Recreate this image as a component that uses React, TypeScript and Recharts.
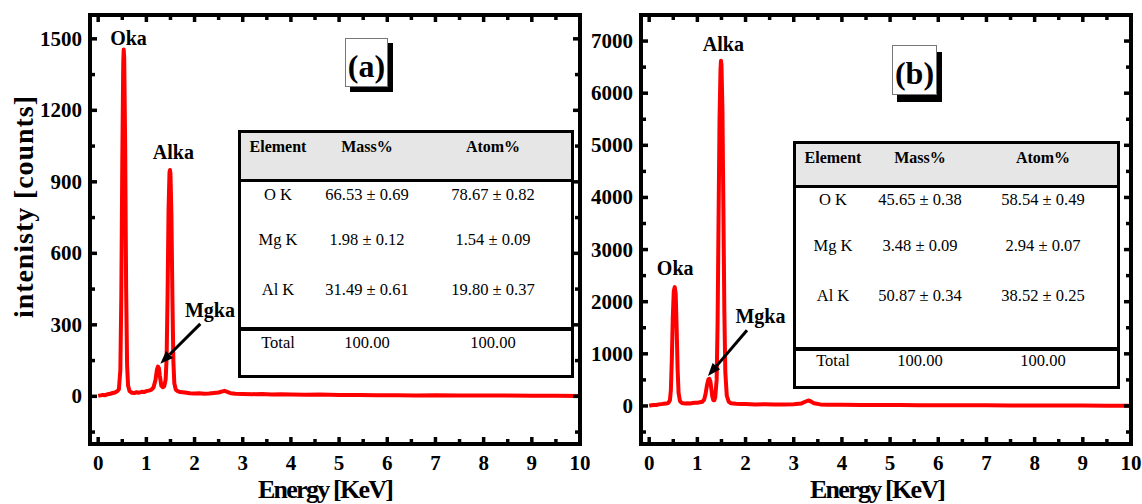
import React from "react";
import { LineChart, Line, XAxis, YAxis, ReferenceDot, ReferenceLine } from "recharts";

// spectrum (a)
const energyA = [0, 0.05, 0.1, 0.15, 0.2, 0.25, 0.3, 0.35, 0.4, 0.43, 0.46, 0.48, 0.5, 0.52, 0.53, 0.54, 0.56, 0.58, 0.6, 0.62, 0.65, 0.7, 0.75, 0.8, 0.85, 0.9, 0.95, 1.0, 1.05, 1.1, 1.15, 1.19, 1.22, 1.24, 1.26, 1.28, 1.31, 1.34, 1.37, 1.4, 1.42, 1.44, 1.46, 1.48, 1.49, 1.5, 1.52, 1.54, 1.56, 1.58, 1.61, 1.65, 1.7, 1.8, 1.9, 2.0, 2.1, 2.2, 2.3, 2.4, 2.5, 2.56, 2.62, 2.68, 2.75, 2.85, 3.0, 3.2, 3.4, 3.6, 3.8, 4.0, 4.3, 4.6, 5.0, 5.4, 5.8, 6.2, 6.6, 7.0, 7.5, 8.0, 8.5, 9.0, 9.5, 10];
const countsA = [2, 4, 6, 5, 9, 11, 14, 16, 22, 30, 110, 420, 980, 1400, 1455, 1420, 1050, 450, 130, 45, 22, 15, 14, 17, 15, 19, 18, 22, 24, 27, 38, 70, 112, 125, 118, 85, 45, 38, 42, 70, 160, 420, 780, 940, 950, 935, 760, 420, 150, 55, 28, 22, 18, 16, 13, 12, 13, 11, 12, 14, 16, 20, 23, 19, 13, 11, 10, 9, 10, 8, 9, 8, 7, 8, 6, 6, 5, 5, 4, 5, 4, 3, 3, 2, 2, 1];

// spectrum (b)
const energyB = [0, 0.05, 0.1, 0.15, 0.2, 0.25, 0.3, 0.35, 0.4, 0.43, 0.45, 0.47, 0.49, 0.51, 0.53, 0.55, 0.57, 0.59, 0.61, 0.64, 0.68, 0.75, 0.8, 0.85, 0.9, 0.95, 1.0, 1.05, 1.1, 1.14, 1.17, 1.2, 1.23, 1.25, 1.27, 1.29, 1.31, 1.33, 1.35, 1.37, 1.4, 1.42, 1.44, 1.46, 1.48, 1.49, 1.5, 1.52, 1.54, 1.56, 1.58, 1.61, 1.65, 1.7, 1.8, 1.9, 2.0, 2.2, 2.4, 2.6, 2.8, 3.0, 3.15, 3.25, 3.3, 3.35, 3.42, 3.55, 3.7, 4.0, 4.4, 4.8, 5.2, 5.6, 6.0, 6.5, 7.0, 7.5, 8.0, 8.5, 9.0, 9.5, 10];
const countsB = [5, 15, 20, 18, 30, 35, 40, 45, 60, 110, 300, 900, 1700, 2200, 2280, 2150, 1500, 700, 250, 90, 55, 45, 50, 48, 55, 60, 62, 70, 80, 120, 230, 400, 510, 520, 470, 330, 180, 115, 110, 160, 500, 1600, 3600, 5500, 6450, 6620, 6550, 5700, 3800, 1800, 650, 200, 80, 50, 40, 38, 35, 30, 32, 28, 30, 32, 45, 85, 105, 90, 50, 30, 25, 22, 20, 18, 17, 15, 14, 12, 11, 10, 9, 8, 7, 6, 5];

const xTicks = [0, 0.5, 1, 1.5, 2, 2.5, 3, 3.5, 4, 4.5, 5, 5.5, 6, 6.5, 7, 7.5, 8, 8.5, 9, 9.5, 10];
const yTicksA = [-150, 0, 150, 300, 450, 600, 750, 900, 1050, 1200, 1350, 1500];
const yTicksB = [-500, 0, 500, 1000, 1500, 2000, 2500, 3000, 3500, 4000, 4500, 5000, 5500, 6000, 6500, 7000];

// EDS tables
const tableHeader = ["Element", "Mass%", "Atom%"];
const tableElements = ["O K", "Mg K", "Al K"];
const massA = ["66.53 ± 0.69", "1.98 ± 0.12", "31.49 ± 0.61"];
const atomA = ["78.67 ± 0.82", "1.54 ± 0.09", "19.80 ± 0.37"];
const massB = ["45.65 ± 0.38", "3.48 ± 0.09", "50.87 ± 0.34"];
const atomB = ["58.54 ± 0.49", "2.94 ± 0.07", "38.52 ± 0.25"];
const totals = ["Total", "100.00", "100.00"];

const peaksA = [
  { text: "Oka", x: 0.63, y: 1475 },
  { text: "Alka", x: 1.56, y: 996 },
  { text: "Mgka", x: 2.32, y: 333 },
];
const peaksB = [
  { text: "Alka", x: 1.54, y: 6810 },
  { text: "Oka", x: 0.54, y: 2506 },
  { text: "Mgka", x: 2.31, y: 1588 },
];
const arrowA = [{ x: 2.12, y: 304 }, { x: 1.29, y: 137 }];
const arrowB = [{ x: 2.03, y: 1454 }, { x: 1.22, y: 574 }];

const serif = '"Liberation Serif", "Times New Roman", serif';
const dataA = energyA.map((e, i) => ({ e, c: countsA[i] }));
const dataB = energyB.map((e, i) => ({ e, c: countsB[i] }));

const frame = { stroke: "#000", strokeWidth: 4, strokeLinecap: "square" as const };

const makeTick = (side: string, step: number, labelled: boolean) => (props: any) => {
  const { x, y, payload } = props;
  const v = payload.value;
  const major = Math.abs(v / step - Math.round(v / step)) < 1e-6;
  const len = major ? 7 : 5;
  let line: any = null;
  let label: any = null;
  const font = { fontFamily: serif, fontWeight: 700, fontSize: 21, fill: "#000" };
  if (side === "bottom") {
    line = <line x1={x} y1={y} x2={x} y2={y - len} />;
    if (labelled && major) label = <text x={x} y={y + 26} textAnchor="middle" {...font}>{v}</text>;
  } else if (side === "top") {
    line = <line x1={x} y1={y} x2={x} y2={y + len} />;
  } else if (side === "left") {
    line = <line x1={x} y1={y} x2={x + len} y2={y} />;
    if (labelled && major) label = <text x={x - 8} y={y + 7} textAnchor="end" {...font}>{v}</text>;
  } else {
    line = <line x1={x} y1={y} x2={x - len} y2={y} />;
  }
  return (
    <g>
      <g stroke="#000" strokeWidth={3.5}>{line}</g>
      {label}
    </g>
  );
};

const peakLabel = (text: string) => (props: any) => {
  const vb = props.viewBox;
  return (
    <text x={vb.x + vb.width / 2} y={vb.y + vb.height / 2} textAnchor="middle"
      fontFamily={serif} fontWeight={700} fontSize={20} fill="#000">{text}</text>
  );
};

const arrowShape = (props: any) => {
  const { x1, y1, x2, y2 } = props;
  const ang = Math.atan2(y2 - y1, x2 - x1);
  const hl = 13, hw = 5;
  const bx = x2 - hl * Math.cos(ang), by = y2 - hl * Math.sin(ang);
  const px = -Math.sin(ang) * hw, py = Math.cos(ang) * hw;
  return (
    <g>
      <line x1={x1} y1={y1} x2={bx} y2={by} stroke="#000" strokeWidth={3} />
      <polygon points={`${x2},${y2} ${bx + px},${by + py} ${bx - px},${by - py}`} fill="#000" />
    </g>
  );
};

type PanelProps = {
  data: any[];
  yDomain: number[];
  yTicks: number[];
  yStep: number;
  leftW: number;
  rightW: number;
  width: number;
  peaks: { text: string; x: number; y: number }[];
  arrow: { x: number; y: number }[];
  xLabelX: number;
  yLabel?: boolean;
};

const Panel: React.FC<PanelProps> = ({ data, yDomain, yTicks, yStep, leftW, rightW, width, peaks, arrow, xLabelX, yLabel }) => (
  <LineChart width={width} height={504} data={data} margin={{ top: 0, right: 0, bottom: 0, left: 0 }}>
    <XAxis xAxisId="b" dataKey="e" type="number" domain={[-0.17, 10]} ticks={xTicks} interval={0}
      height={60} axisLine={frame} tickLine={false} tickSize={0} tickMargin={0}
      tick={makeTick("bottom", 1, true)}
      label={() => (
        <text x={xLabelX} y={498} textAnchor="middle" fontFamily={serif} fontWeight={700} fontSize={26} textLength={136} fill="#000">
          Energy [KeV]
        </text>
      )} />
    <XAxis xAxisId="t" orientation="top" dataKey="e" type="number" domain={[-0.17, 10]} ticks={xTicks} interval={0}
      height={15} axisLine={frame} tickLine={false} tickSize={0} tickMargin={0}
      tick={makeTick("top", 1, false)} />
    <YAxis yAxisId="l" type="number" domain={yDomain} ticks={yTicks} interval={0} width={leftW}
      axisLine={frame} tickLine={false} tickSize={0} tickMargin={0} allowDataOverflow
      tick={makeTick("left", yStep, true)}
      label={yLabel ? () => (
        <text x={33} y={207} transform="rotate(-90 33 207)" textAnchor="middle" fontFamily={serif}
          fontWeight={700} fontSize={28} textLength={222} fill="#000">intenisty [counts]</text>
      ) : undefined} />
    <YAxis yAxisId="r" orientation="right" type="number" domain={yDomain} ticks={yTicks} interval={0} width={rightW}
      axisLine={frame} tickLine={false} tickSize={0} tickMargin={0} allowDataOverflow
      tick={makeTick("right", yStep, false)} />
    <Line xAxisId="b" yAxisId="l" type="linear" dataKey="c" stroke="#ff0000" strokeWidth={4}
      strokeLinejoin="round" dot={false} activeDot={false} isAnimationActive={false} />
    {peaks.map((p) => (
      <ReferenceDot key={p.text} xAxisId="b" yAxisId="l" x={p.x} y={p.y} r={1} fill="none" stroke="none"
        label={peakLabel(p.text)} />
    ))}
    <ReferenceLine xAxisId="b" yAxisId="l" segment={arrow} shape={arrowShape} />
  </LineChart>
);

type TableProps = {
  left: number; top: number; width: number; height: number; headerH: number; sepY: number;
  colX: number[]; rowY: number[]; totalY: number; headY: number; mass: string[]; atom: string[];
};

const cell = (text: string, x: number, y: number, bold = false) => (
  <span key={text + x + y} style={{
    position: "absolute", left: x, top: y, transform: "translate(-50%, -50%)", whiteSpace: "nowrap",
    fontFamily: serif, fontSize: bold ? 16 : 16.5, fontWeight: bold ? 700 : 400, color: "#000", lineHeight: 1,
  }}>{text}</span>
);

const EdsTable: React.FC<TableProps> = ({ left, top, width, height, headerH, sepY, colX, rowY, totalY, headY, mass, atom }) => (
  <div style={{ position: "absolute", left, top, width, height, border: "3px solid #000", boxSizing: "border-box", background: "#fff" }}>
    <div style={{ position: "absolute", left: 0, top: 0, right: 0, height: headerH, background: "#e6e6e6", borderBottom: "3px solid #000", boxSizing: "border-box" }} />
    <div style={{ position: "absolute", left: 0, right: 0, top: sepY, height: 4, background: "#000" }} />
    {tableHeader.map((h, i) => cell(h, colX[i], headY, true))}
    {tableElements.map((el, r) => [
      cell(el, colX[0], rowY[r]),
      cell(mass[r], colX[1], rowY[r]),
      cell(atom[r], colX[2], rowY[r]),
    ])}
    {totals.map((t, i) => cell(t, colX[i], totalY))}
  </div>
);

const PanelTag: React.FC<{ text: string; left: number; top: number; w: number; h: number; shadow: string }> = ({ text, left, top, w, h, shadow }) => (
  <div style={{
    position: "absolute", left, top, width: w, height: h, background: "#fff", border: "1px solid #777",
    boxSizing: "border-box", boxShadow: shadow, display: "flex", alignItems: "center", justifyContent: "center",
    fontFamily: serif, fontWeight: 700, fontSize: 32, color: "#000", lineHeight: 1, paddingTop: 6,
  }}>{text}</div>
);

export default function App() {
  return (
    <div style={{ position: "absolute", left: 0, top: 0, width: 1142, height: 504, background: "#fff", overflow: "hidden" }}>
      <div style={{ position: "absolute", left: 0, top: 0 }}>
        <Panel data={dataA} yDomain={[-200, 1600]} yTicks={yTicksA} yStep={300}
          leftW={90} rightW={10} width={590} peaks={peaksA} arrow={arrowA} xLabelX={326} yLabel />
      </div>
      <div style={{ position: "absolute", left: 590, top: 0 }}>
        <Panel data={dataB} yDomain={[-730, 7500]} yTicks={yTicksB} yStep={1000}
          leftW={51} rightW={11} width={552} peaks={peaksB} arrow={arrowB} xLabelX={288} />
      </div>
      <EdsTable left={238} top={130} width={336} height={248} headerH={49} sepY={194} headY={14}
        colX={[37, 126, 252]} rowY={[62, 107, 157]} totalY={210} mass={massA} atom={atomA} />
      <EdsTable left={793} top={141} width={327} height={248} headerH={44} sepY={203} headY={14}
        colX={[37, 124, 247]} rowY={[56, 102, 152]} totalY={217} mass={massB} atom={atomB} />
      <PanelTag text="(a)" left={345} top={38} w={43} h={49} shadow="5px 5px 0 #000" />
      <PanelTag text="(b)" left={892} top={45} w={45} h={50} shadow="5px 7px 0 #000" />
    </div>
  );
}
